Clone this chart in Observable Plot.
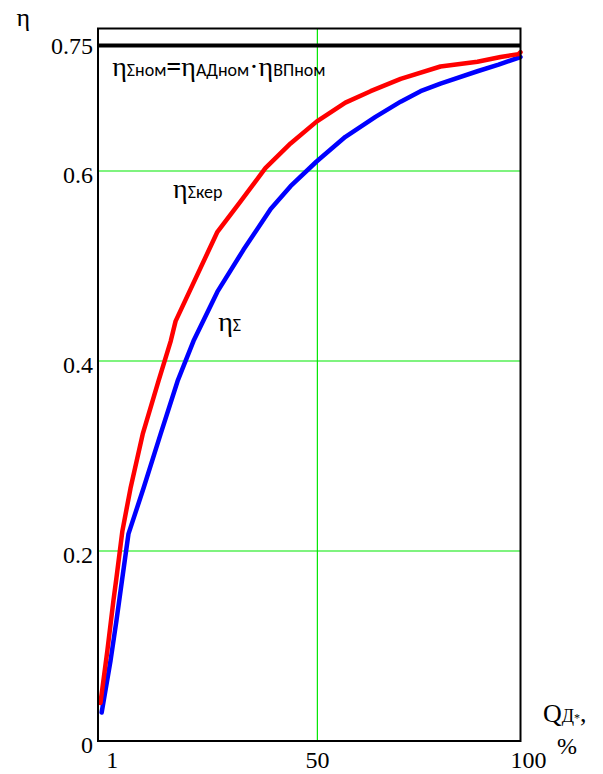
<!DOCTYPE html>
<html><head><meta charset="utf-8">
<script src="https://cdn.jsdelivr.net/npm/d3@7"></script>
<script src="https://cdn.jsdelivr.net/npm/@observablehq/plot@0.6"></script>
<style>body{margin:0;background:#fff} #chart{width:603px;height:774px}</style>
</head><body><div id="chart"></div>
<script>
// ηΣ (blue) – overall efficiency vs Q (%)
const blueQ = [-3.1, -0.9, 0.55, 2.0, 3.5, 7.2, 11.4, 15.6, 19.5, 25.4, 31.8, 38.5, 43.4, 49.8, 56.9, 64.3, 70.5, 75.4, 80.3, 89.4, 94.6, 100];
const blueEta = [0.030, 0.085, 0.127, 0.172, 0.218, 0.266, 0.323, 0.379, 0.421, 0.473, 0.517, 0.560, 0.584, 0.610, 0.636, 0.657, 0.673, 0.684, 0.692, 0.705, 0.712, 0.720];
// ηΣкер (red)
const redQ = [-3.4, -1.7, -0.2, 0.55, 2.0, 4.0, 7.0, 10.9, 13.9, 15.1, 25.4, 31.1, 37.2, 43.4, 49.8, 56.9, 63.1, 70.5, 80.3, 89.4, 95.1, 99.5, 100];
const redEta = [0.040, 0.095, 0.148, 0.172, 0.221, 0.266, 0.323, 0.379, 0.421, 0.442, 0.536, 0.568, 0.603, 0.629, 0.652, 0.672, 0.684, 0.697, 0.710, 0.715, 0.720, 0.723, 0.725];
// nominal efficiency line
const etaNominal = [0.732];
// axes
const yTicks = [0, 0.2, 0.4, 0.6];
const yTopTick = [0.75];
const xTicks = [1, 50, 100];
const yGrid = [0.2, 0.4, 0.6];
const xGrid = [50];
// annotations (data coords)
const labelNames = ["nom", "ker", "sum"];
const labelQ = [-0.4, 14.6, 25.7];
const labelEta = [0.699, 0.571, 0.431];

const blue = blueQ.map((q, i) => ({q, eta: blueEta[i]}));
const red = redQ.map((q, i) => ({q, eta: redEta[i]}));

const serif = "'Liberation Serif','Times New Roman',serif";
const sans = "Carlito,'Open Sans',sans-serif";
const green = "#00e800";

const plot = Plot.plot({
  width: 603, height: 774,
  marginLeft: 97.5, marginRight: 83, marginTop: 28, marginBottom: 33.5,
  x: {domain: [-4, 100], label: null},
  y: {domain: [0, 0.75], label: null},
  style: {fontFamily: serif, fontSize: "24px", background: "white", color: "black"},
  marks: [
    Plot.ruleY(yGrid, {stroke: green, strokeWidth: 1.2}),
    Plot.ruleX(xGrid, {stroke: green, strokeWidth: 1.2}),
    Plot.line(blue, {x: "q", y: "eta", stroke: "#0000ff", strokeWidth: 4.5}),
    Plot.line(red, {x: "q", y: "eta", stroke: "#ff0000", strokeWidth: 4.5}),
    Plot.ruleY(etaNominal, {stroke: "black", strokeWidth: 4}),
    Plot.frame({stroke: "black", strokeWidth: 2}),
    Plot.axisY(yTicks, {tickSize: 0, tickPadding: 5, dy: 4, label: null, fontSize: 24, tickFormat: d => String(d)}),
    Plot.axisY(yTopTick, {tickSize: 0, tickPadding: 5, dy: 18, label: null, fontSize: 24, tickFormat: d => String(d)}),
    Plot.axisX([xTicks[0]], {tickSize: 0, tickPadding: 10, dx: -6, label: null, fontSize: 24, tickFormat: d => String(d)}),
    Plot.axisX([xTicks[1]], {tickSize: 0, tickPadding: 10, dx: 0, label: null, fontSize: 24, tickFormat: d => String(d)}),
    Plot.axisX([xTicks[2]], {tickSize: 0, tickPadding: 10, dx: 8, label: null, fontSize: 24, tickFormat: d => String(d)})
  ]
});
document.getElementById("chart").appendChild(plot);

const svg = d3.select(plot);
const sx = plot.scale("x").apply, sy = plot.scale("y").apply;
function rich(x, y, parts) {
  const t = svg.append("text").attr("x", x).attr("y", y).attr("fill", "black").attr("text-anchor", "start");
  for (const p of parts) {
    const s = t.append("tspan").text(p.t).attr("font-family", p.f).attr("font-size", p.s);
    if (p.dy) s.attr("dy", p.dy);
  }
  return t;
}
const ETA = {t: "η", f: serif, s: 28};
const parts = {
  nom: [ETA, {t: "Σном", f: sans, s: 18}, {t: "=", f: sans, s: 30}, ETA, {t: "АДном", f: sans, s: 18}, {t: "·", f: serif, s: 28}, ETA, {t: "ВПном", f: sans, s: 18}],
  ker: [ETA, {t: "Σкер", f: sans, s: 18}],
  sum: [ETA, {t: "Σ", f: sans, s: 18}]
};
labelNames.forEach((n, i) => rich(sx(labelQ[i]), sy(labelEta[i]), parts[n]));

// axis titles
const xr = sx(100), yb = sy(0), yt = sy(0.75);
rich(xr + 23, yb - 19, [{t: "Q", f: serif, s: 26}, {t: "Д", f: serif, s: 18}, {t: "*", f: serif, s: 12}, {t: ",", f: serif, s: 26}]);
rich(xr + 37, yb + 13, [{t: "%", f: serif, s: 24}]);
rich(sx(-4) - 81, yt - 2, [{t: "η", f: serif, s: 26}]);
</script></body></html>
